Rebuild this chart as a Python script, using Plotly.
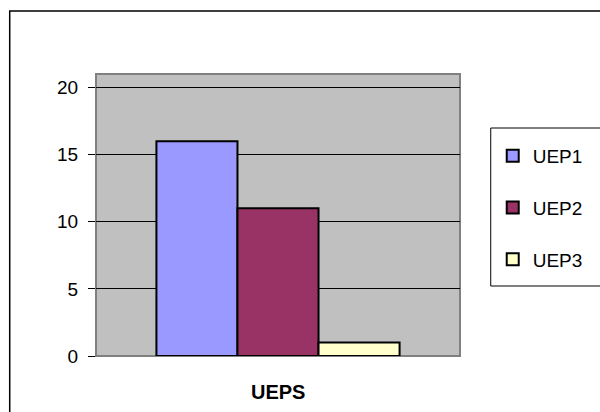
import plotly.graph_objects as go

# Chart data
categories = ["UEPS"]
series_names = ["UEP1", "UEP2", "UEP3"]
series_values = [16, 11, 1]
series_colors = ["#9999FF", "#993366", "#FFFFCC"]
y_ticks = [0, 5, 10, 15, 20]

W, H = 600, 412
L, R, T, B = 96, 137, 74, 56
pw, ph = W - L - R, H - T - B


def px_x(x):
    return (x - L) / pw


def px_y(y):
    return (H - B - y) / ph


font = "Arial, 'Liberation Sans', sans-serif"

fig = go.Figure()
for name, val, col in zip(series_names, series_values, series_colors):
    fig.add_trace(go.Bar(
        x=categories, y=[val], name=name, legendgroup=name,
        marker=dict(color=col, line=dict(color="black", width=2)),
    ))

fig.update_layout(
    width=W, height=H,
    margin=dict(l=L, r=R, t=T, b=B),
    paper_bgcolor="white",
    plot_bgcolor="#C0C0C0",
    barmode="group", bargap=0.332, bargroupgap=0,
    font=dict(family=font, size=19, color="black"),
    showlegend=True,
    legend=dict(
        x=px_x(496), y=px_y(137), xanchor="left", yanchor="top",
        bgcolor="rgba(0,0,0,0)", borderwidth=0,
        tracegroupgap=24, font=dict(size=19),
    ),
    xaxis=dict(showticklabels=False, ticks="", showgrid=False, zeroline=False),
    yaxis=dict(
        range=[0, 21], tickvals=y_ticks, ticks="outside", ticklen=7,
        tickcolor="black", showgrid=True, gridcolor="black", gridwidth=1,
        zeroline=False, showline=False, tickfont=dict(size=19),
        ticklabelstandoff=6,
    ),
    shapes=[
        # plot area frame
        dict(type="rect", xref="paper", yref="paper", x0=0, x1=1, y0=0, y1=1,
             line=dict(color="#808080", width=2), layer="below"),
        # legend frame
        dict(type="rect", xref="paper", yref="paper",
             x0=px_x(494), x1=px_x(620), y0=px_y(286), y1=px_y(128),
             line=dict(color="black", width=1)),
        # chart area frame
        dict(type="rect", xref="paper", yref="paper",
             x0=px_x(9), x1=px_x(620), y0=px_y(430), y1=px_y(11),
             line=dict(color="black", width=1.5)),
    ],
    annotations=[
        dict(text="<b>UEPS</b>", xref="paper", yref="paper",
             x=0.5, y=px_y(392), xanchor="center", yanchor="middle",
             showarrow=False, font=dict(size=20)),
    ],
)

fig.write_html("out.html")
